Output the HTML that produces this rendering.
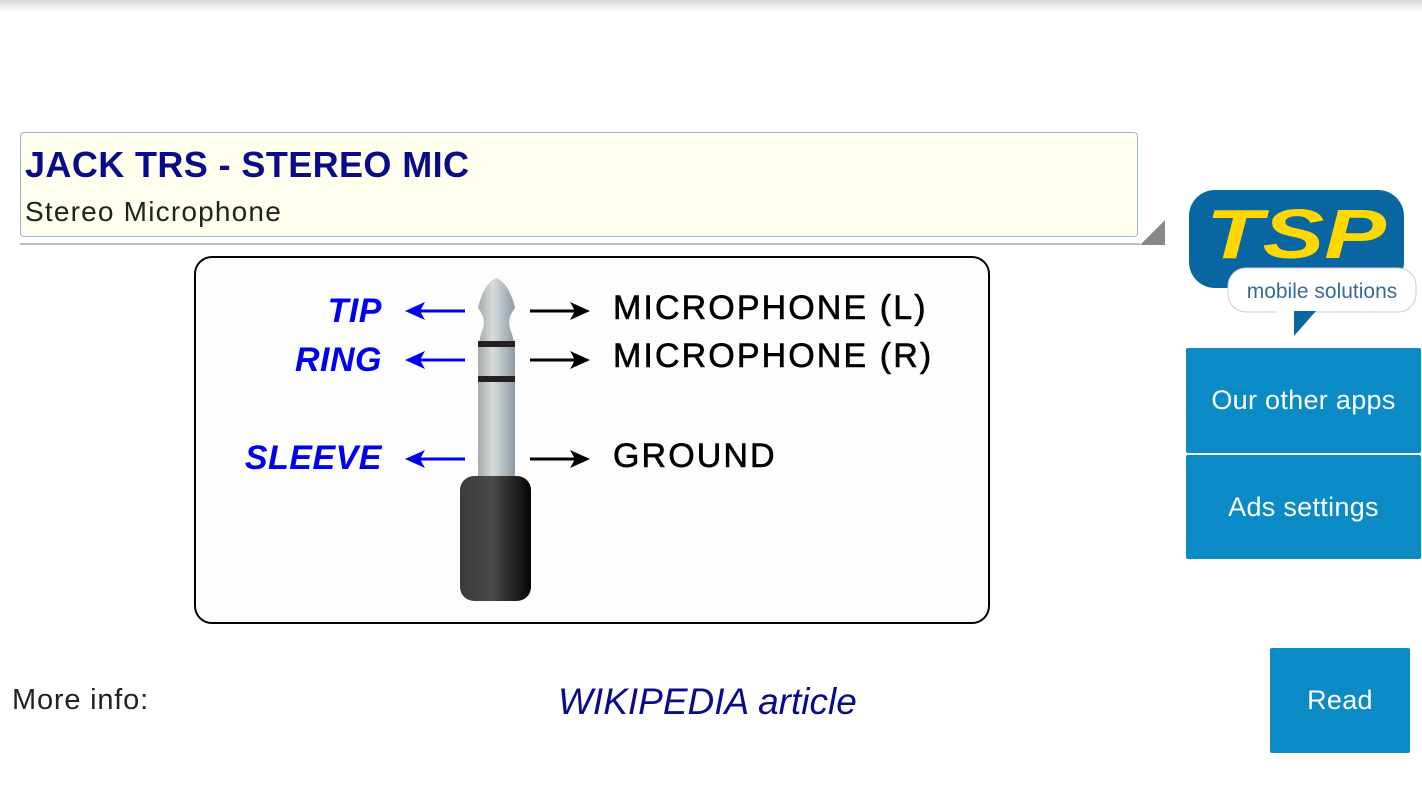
<!DOCTYPE html>
<html><head><meta charset="utf-8"><style>
body{margin:0;width:1422px;height:800px;background:#fff;position:relative;overflow:hidden;font-family:"Liberation Sans",sans-serif}
.a{position:absolute}
.btn{position:absolute;background:#0a8bc6;color:#fff;font-size:27px;display:flex;align-items:center;justify-content:center;border-radius:2px;letter-spacing:0.3px}
.lbl{position:absolute;color:#0000ee;font-weight:bold;font-style:italic;font-size:34px;text-align:right;width:200px;left:182px;letter-spacing:0.5px}
.rl{position:absolute;left:613px;font-size:34px;color:#000;letter-spacing:2.1px;-webkit-text-stroke:0.6px #000}
</style></head><body>
<div class="a" style="left:0;top:0;width:1422px;height:12px;background:linear-gradient(#d8d8d8,#fff)"></div>
<div class="a" style="left:20px;top:132px;width:1116px;height:103px;background:#ffffee;border:1px solid #9bb8cc;border-radius:4px"></div>
<div class="a" style="left:25px;top:144px;font-size:36px;font-weight:bold;color:#0a0a8c;letter-spacing:0.4px">JACK TRS - STEREO MIC</div>
<div class="a" style="left:25px;top:196px;font-size:28px;color:#222;letter-spacing:1.2px">Stereo Microphone</div>
<div class="a" style="left:20px;top:243px;width:1120px;height:2px;background:#bbb"></div>
<svg class="a" style="left:1140px;top:220px" width="25" height="25"><polygon points="25,0 25,25 0,25" fill="#888"/></svg>

<div class="a" style="left:194px;top:256px;width:792px;height:364px;border:2.5px solid #000;border-radius:18px;background:#fdfdfd"></div>
<svg class="a" style="left:0;top:0" width="1000" height="640">
<defs>
<linearGradient id="m" x1="0" x2="1"><stop offset="0" stop-color="#a8a8a8"/><stop offset=".4" stop-color="#d8dcdc"/><stop offset="1" stop-color="#8c9aa4"/></linearGradient>
<linearGradient id="h" x1="0" x2="1"><stop offset="0" stop-color="#3a3a3a"/><stop offset=".45" stop-color="#4a4a4a"/><stop offset="1" stop-color="#050505"/></linearGradient>
</defs>
<path d="M478,478 L478,342 L515,342 L515,478 Z" fill="url(#m)"/>
<path d="M496,278 C486,282 480,298 478,308 C484,316 486,322 481,334 L479,342 L514,342 L512,334 C507,322 509,316 515,308 C513,298 507,282 496,278 Z" fill="url(#m)"/>
<rect x="478" y="341" width="37" height="6" fill="#222"/>
<rect x="478" y="376" width="37" height="6" fill="#222"/>
<rect x="460" y="476" width="71" height="125" rx="14" fill="url(#h)"/>
<g stroke="#0000ee" stroke-width="3" fill="#0000ee">
<line x1="465" y1="311" x2="415" y2="311"/><polygon points="405,311 425,302 420,311 425,320" stroke="none"/>
<line x1="465" y1="360" x2="415" y2="360"/><polygon points="405,360 425,351 420,360 425,369" stroke="none"/>
<line x1="465" y1="459" x2="415" y2="459"/><polygon points="405,459 425,450 420,459 425,468" stroke="none"/>
</g>
<g stroke="#000" stroke-width="3" fill="#000">
<line x1="530" y1="311" x2="580" y2="311"/><polygon points="590,311 570,302 575,311 570,320" stroke="none"/>
<line x1="530" y1="360" x2="580" y2="360"/><polygon points="590,360 570,351 575,360 570,369" stroke="none"/>
<line x1="530" y1="459" x2="580" y2="459"/><polygon points="590,459 570,450 575,459 570,468" stroke="none"/>
</g>
</svg>
<div class="lbl" style="top:292px">TIP</div>
<div class="lbl" style="top:341px">RING</div>
<div class="lbl" style="top:439px">SLEEVE</div>
<div class="rl" style="top:289px">MICROPHONE (L)</div>
<div class="rl" style="top:337px">MICROPHONE (R)</div>
<div class="rl" style="top:437px">GROUND</div>

<svg class="a" style="left:1186px;top:188px" width="236" height="150">
<rect x="3" y="2" width="215" height="98" rx="26" fill="#0a66a0"/>
<text x="110" y="70" font-family="Liberation Sans" font-weight="bold" font-style="italic" font-size="70" fill="#ffd800" text-anchor="middle" textLength="180" lengthAdjust="spacingAndGlyphs">TSP</text>
<rect x="42" y="80" width="188" height="44" rx="18" fill="#fff" stroke="#ccc"/>
<polygon points="90,123 110,148 130,123" fill="#fff"/>
<polygon points="108,123 108,148 130,123" fill="#0a66a0"/>
<text x="136" y="110" font-family="Liberation Sans" font-size="21" fill="#3a6a9a" text-anchor="middle">mobile solutions</text>
</svg>
<div class="btn" style="left:1186px;top:348px;width:235px;height:105px">Our other apps</div>
<div class="btn" style="left:1186px;top:455px;width:235px;height:104px">Ads settings</div>
<div class="a" style="left:12px;top:684px;font-size:29px;color:#222;letter-spacing:0.8px">More info:</div>
<div class="a" style="left:558px;top:681px;font-size:37px;font-style:italic;color:#0a0a8c">WIKIPEDIA article</div>
<div class="btn" style="left:1270px;top:648px;width:140px;height:105px">Read</div>
</body></html>
